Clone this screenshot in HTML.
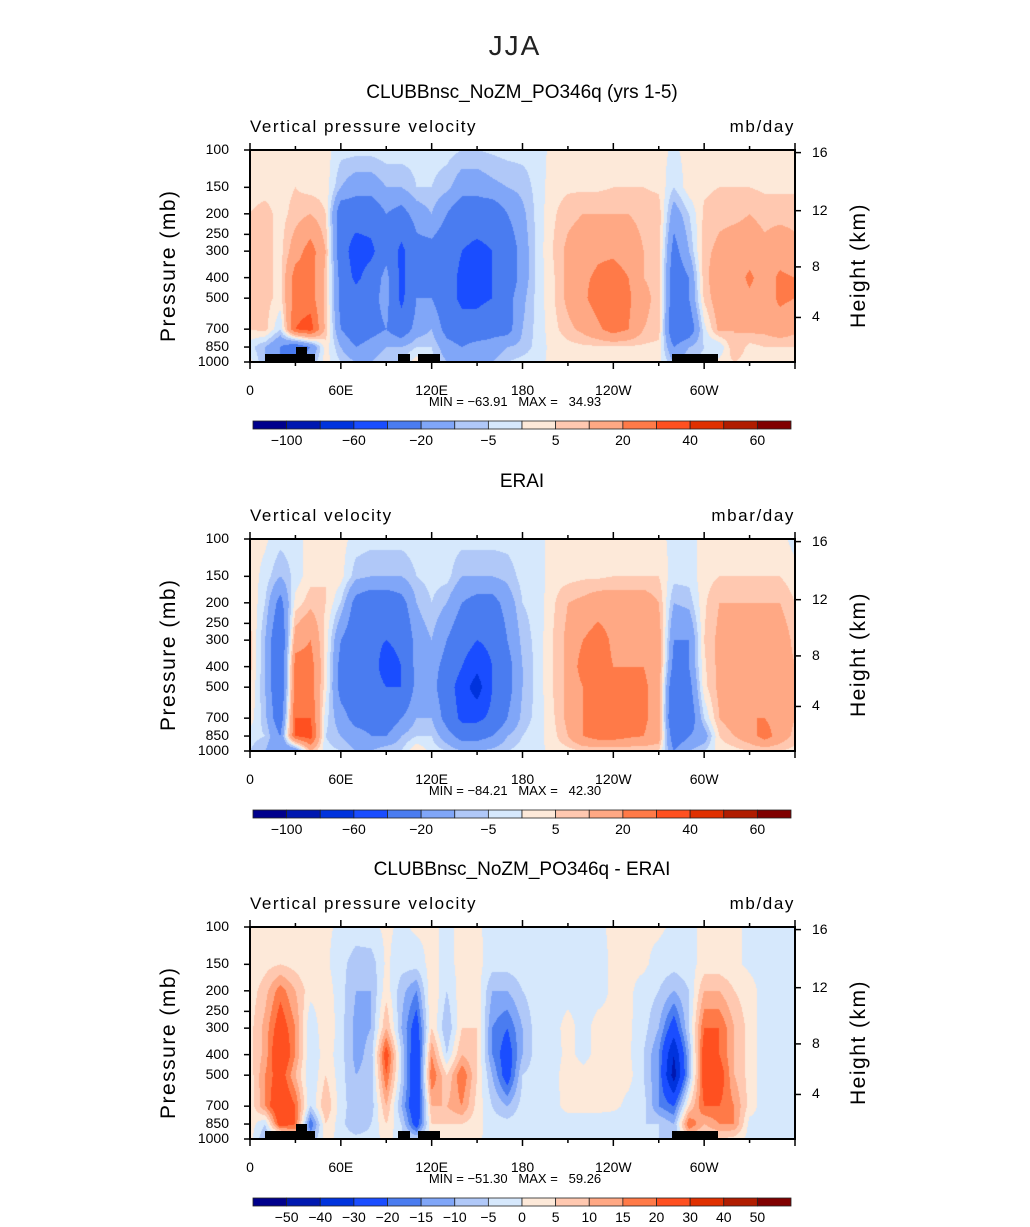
<!DOCTYPE html>
<html><head><meta charset="utf-8">
<style>
body{margin:0;background:#fff;}
#root{position:relative;width:1030px;height:1227px;background:#fff;font-family:"Liberation Sans",sans-serif;color:#000;overflow:hidden;}
.t{position:absolute;white-space:pre;}
canvas{position:absolute;}
svg{position:absolute;left:0;top:0;}
</style></head>
<body>
<div id="root">
<div class="t" style="left:0;width:1030px;text-align:center;top:30px;font-size:28px;color:#222;letter-spacing:2px;">JJA</div>
</div>
<script>
// ---- chart data ----
const lons=[0,10,20,30,40,50,60,70,80,90,100,110,120,130,140,150,160,170,180,190,200,210,220,230,240,250,260,270,280,290,300,310,320,330,340,350,360];
const levels=[100,150,200,300,400,500,700,850,1000];
const pressureTicks=[100,150,200,250,300,400,500,700,850,1000];
const heightTicks=[16,12,8,4];
const lonTickVals=[0,60,120,180,240,300];
const lonTickLabels=["0","60E","120E","180","120W","60W"];
const fullLevels=[-100,-80,-60,-40,-20,-10,-5,0,5,10,20,30,40,50,60];
const fullLabels=["−100","","−60","","−20","","−5","","5","","20","","40","","60"];
const diffLevels=[-50,-40,-30,-20,-15,-10,-5,0,5,10,15,20,30,40,50];
const diffLabels=["−50","−40","−30","−20","−15","−10","−5","0","5","10","15","20","30","40","50"];
const colors16=['#00008c','#0018b0','#0033dd','#1a4dff','#4a7cf0','#80a6f8','#b0c8f8','#d6e8fc','#fde9d9','#ffc8b0','#ffa884','#ff7a48','#ff5020','#e03000','#b01c00','#800000'];
const modelCols=[
[2,3,5,7,7,7,5,-3,2],[2,3,7,7,7,7,7,-10,-10],[2,3,3,3,3,3,-5,-20,-20],[3,5,7,15,25,25,30,-30,-30],[2,3,10,25,25,25,35,-20,-10],[2,3,5,10,8,8,8,3,2],
[-3,-10,-30,-30,-25,-25,-20,-10,-5],[-3,-15,-30,-50,-45,-30,-30,-20,-10],[-3,-15,-30,-45,-30,-25,-25,-15,-10],[-2,-10,-20,-25,-15,-15,-20,-10,-5],[-2,-10,-25,-45,-45,-45,-30,-10,-5],[-3,-5,-15,-25,-25,-20,-15,-5,3],
[-3,-5,-10,-25,-25,-20,-10,-5,-3],[-3,-8,-20,-30,-30,-30,-25,-15,-10],[-5,-15,-30,-40,-45,-45,-30,-20,-10],[-5,-15,-30,-45,-45,-45,-30,-15,-10],[-4,-12,-30,-40,-40,-40,-25,-15,-10],[-3,-10,-20,-30,-30,-25,-25,-10,-5],
[-3,-8,-12,-15,-15,-12,-10,-8,-3],[-3,-3,-3,-3,-3,-3,-3,-3,-2],[2,3,4,5,4,4,3,2,2],[2,4,8,12,12,12,8,3,2],[2,4,10,15,18,18,12,4,3],[2,4,10,18,22,25,18,4,3],
[2,5,10,18,25,28,25,4,3],[2,5,10,15,20,22,20,4,3],[2,5,8,10,10,12,10,4,3],[2,4,8,8,8,8,8,3,2],[-1,-5,-15,-25,-30,-30,-35,-20,-10],[2,3,-5,-10,-20,-20,-30,-10,-5],
[2,4,6,8,8,6,-2,-5,-3],[2,5,8,12,15,15,12,-5,2],[2,5,8,15,15,15,10,10,5],[2,5,10,15,22,18,12,3,2],[2,4,8,12,15,15,12,5,3],[2,4,8,15,22,22,15,5,3],[2,4,8,12,20,20,12,5,3]];
const eraiCols=[
[2,3,5,7,7,5,3,-3,-5],[1,-2,-5,-10,-10,-10,-8,-5,-10],[-3,-10,-25,-35,-35,-35,-30,-20,-20],[-2,-3,2,15,25,25,30,30,-20],[2,3,8,20,25,25,30,35,10],[3,5,5,3,3,2,-3,-5,-3],
[2,2,-5,-20,-25,-25,-15,-10,-5],[-2,-8,-25,-30,-30,-30,-25,-15,-10],[-3,-10,-30,-35,-30,-30,-25,-20,-10],[-3,-10,-30,-40,-50,-40,-30,-20,-5],[-3,-10,-25,-35,-40,-40,-20,-10,-5],[-2,-5,-10,-15,-15,-15,-10,-5,5],
[-2,-3,-5,-10,-15,-15,-10,-5,-2],[-2,-3,-10,-20,-25,-30,-25,-15,-5],[-3,-10,-20,-30,-40,-50,-45,-25,-10],[-3,-10,-25,-40,-55,-70,-45,-25,-10],[-3,-10,-25,-35,-40,-40,-35,-20,-8],[-3,-8,-15,-20,-25,-25,-20,-10,-5],
[-2,-3,-5,-8,-10,-10,-8,-5,-3],[-2,-3,-3,-3,-3,-3,-3,-2,-2],[2,3,4,5,5,5,4,3,2],[2,3,10,12,12,12,12,10,3],[2,4,12,20,25,20,20,20,5],[2,4,15,25,25,22,20,25,5],
[2,5,15,18,20,25,25,25,5],[2,5,15,18,20,25,25,22,5],[2,5,15,18,20,22,22,20,5],[2,5,10,15,15,15,15,15,5],[-2,-3,-10,-20,-25,-35,-40,-30,-20],[-2,-3,-8,-20,-20,-25,-30,-20,-10],
[2,3,4,5,4,3,-5,-15,-5],[2,5,10,12,12,12,10,5,2],[2,5,10,12,15,15,15,10,3],[2,5,10,12,15,15,20,15,5],[2,5,10,15,15,18,20,25,5],[2,5,10,15,15,15,15,15,5],[-2,2,5,8,10,10,10,8,3]];
const diffCols=[
[1,1,2,3,3,2,1,3,2],[2,3,8,12,12,15,15,-5,-10],[2,5,18,25,30,25,30,25,-10],[2,3,10,15,15,10,20,20,5],[1,1,2,-5,-5,-5,-5,-20,-10],[1,1,3,5,3,5,10,5,2],
[-1,-3,-3,-3,-3,-3,-3,-3,-2],[-2,-8,-10,-12,-12,-10,-8,-10,-3],[-1,-8,-10,-10,-8,-8,-8,-5,-3],[1,1,3,10,25,20,10,5,2],[-1,-3,-8,-10,-5,-5,-10,-5,-3],[1,-3,-15,-25,-30,-30,-30,-25,-5],
[1,2,5,5,15,20,10,5,2],[-1,-2,-5,-10,-5,5,10,5,2],[1,2,3,5,10,20,15,5,2],[1,2,3,5,5,5,3,2,1],[-2,-3,-10,-15,-15,-10,-5,-3,-2],[-2,-3,-10,-20,-25,-25,-10,-3,-2],
[-1,-2,-5,-10,-10,-5,-3,-2,-2],[-1,-2,-2,-2,-2,-2,-2,-2,-2],[-1,-2,-2,-2,-3,-2,-2,-3,-2],[-1,-2,-2,2,2,3,2,-3,-2],[-1,-2,-2,-2,-2,2,3,-5,-2],[-1,-2,-2,2,2,3,3,-5,-2],
[1,1,1,1,2,3,2,-5,-2],[1,1,1,1,1,2,-2,-5,-2],[1,1,-2,-3,-5,-5,-3,-5,-2],[1,-2,-5,-10,-15,-15,-15,-5,-5],[-1,-3,-10,-25,-40,-45,-20,-10,-10],[-1,-2,-5,-5,-10,-10,5,20,5],
[1,2,10,20,25,25,20,10,2],[1,2,10,20,20,25,20,15,5],[1,1,5,10,10,10,15,15,3],[-1,-1,2,3,3,3,3,-2,-2],[-1,-2,-2,-3,-3,-3,-3,-2,-2],[-1,-2,-2,-3,-3,-3,-3,-2,-2],[-1,-2,-2,-3,-3,-3,-3,-2,-2]];

const root=document.getElementById('root');
const PX=250,PW=545,PH=212;
function xOfLon(l){return PX+l/360*PW;}
function yRel(p){return PH*(1-Math.log10(1000/p));}
function pOfHeightKm(h){const z=h*1000;if(z<=11000)return 1013.25*Math.pow(1-2.25577e-5*z,5.25588);return 226.32*Math.exp(-(z-11000)/6341.6);}
function hex(c){return [parseInt(c.slice(1,3),16),parseInt(c.slice(3,5),16),parseInt(c.slice(5,7),16)];}
const rgb=colors16.map(hex);
function binOf(v,bounds){let i=0;while(i<bounds.length&&v>bounds[i])i++;return i;}
function addText(txt,left,top,size,align,name,extra){
  const d=document.createElement('div');d.className='t';d.textContent=txt;
  
  
  let s='top:'+top+'px;font-size:'+size+'px;';
  if(align==='center')s+='left:'+(left-200)+'px;width:400px;text-align:center;';
  else if(align==='right')s+='left:'+(left-200)+'px;width:200px;text-align:right;';
  else s+='left:'+left+'px;';
  d.style.cssText=s+(extra||'');root.appendChild(d);return d;
}
const NS='http://www.w3.org/2000/svg';
const svg=document.createElementNS(NS,'svg');svg.setAttribute('width',1030);svg.setAttribute('height',1227);


function el(tag,attrs,name){const e=document.createElementNS(NS,tag);for(const k in attrs)e.setAttribute(k,attrs[k]);
  
  
  svg.appendChild(e);return e;}

function drawPanel(off,cols,bounds,title,sub,unit,mn,mx,labels,topo,pid){
  const top=150+off;
  addText(title,522,top-68,19,'center',pid+'-title');
  addText(sub,250,top-33,17,'left',pid+'-variable-label','letter-spacing:1.5px;');
  addText(unit,795,top-33,17,'right',pid+'-units-label','letter-spacing:1.6px;');
  const cv=document.createElement('canvas');cv.width=PW;cv.height=PH;
  cv.style.left=PX+'px';cv.style.top=top+'px';
  
  
  root.appendChild(cv);
  const ctx=cv.getContext('2d');const img=ctx.createImageData(PW,PH);
  const ly=levels.map(yRel);
  for(let py=0;py<PH;py++){
    const yy=py+0.5;let k=0;while(k<levels.length-2&&yy>ly[k+1])k++;
    let fy=(yy-ly[k])/(ly[k+1]-ly[k]);fy=Math.max(0,Math.min(1,fy));
    for(let px=0;px<PW;px++){
      const lon=(px+0.5)/PW*360;let j=Math.min(lons.length-2,Math.floor(lon/10));
      const fx=(lon-lons[j])/(lons[j+1]-lons[j]);
      const a=cols[j][k]*(1-fy)+cols[j][k+1]*fy;
      const b=cols[j+1][k]*(1-fy)+cols[j+1][k+1]*fy;
      const v=a*(1-fx)+b*fx;
      const c=rgb[binOf(v,bounds)];const o=(py*PW+px)*4;
      img.data[o]=c[0];img.data[o+1]=c[1];img.data[o+2]=c[2];img.data[o+3]=255;
    }
  }
  ctx.putImageData(img,0,0);
  if(topo){
    [[265,354,315,362],[296,347,307,354],[398,354,410,362],[418,354,440,362],[672,354,718,362]].forEach(r=>{
      el('rect',{x:r[0],y:r[1]+off,width:r[2]-r[0],height:r[3]-r[1],fill:'#000'},pid+'-topography');
    });
  }
  el('rect',{x:PX,y:top,width:PW,height:PH,fill:'none',stroke:'#000','stroke-width':2},pid+'-plot-frame');
  pressureTicks.forEach(p=>{const y=top+yRel(p);
    el('line',{x1:PX-6,y1:y,x2:PX,y2:y,stroke:'#000','stroke-width':1.5},pid+'-pressure-tick');
    addText(String(p),229,y-9,14,'right',pid+'-pressure-label');});
  heightTicks.forEach(h=>{const y=top+yRel(pOfHeightKm(h));
    el('line',{x1:PX+PW,y1:y,x2:PX+PW+6,y2:y,stroke:'#000','stroke-width':1.5},pid+'-height-tick');
    addText(String(h),812,y-9,14,'left',pid+'-height-label');});
  for(let l=0;l<=360;l+=30){const x=xOfLon(l);const major=l%60===0;
    el('line',{x1:x,y1:top+PH,x2:x,y2:top+PH+(major?7:4),stroke:'#000','stroke-width':1.5},pid+'-lon-tick');
    el('line',{x1:x,y1:top-(major?7:4),x2:x,y2:top,stroke:'#000','stroke-width':1.5},pid+'-lon-tick-top');}
  lonTickVals.forEach((l,i)=>addText(lonTickLabels[i],xOfLon(l),top+PH+20,14,'center',pid+'-lon-label'));
  addText('Pressure (mb)',0,0,21,'left',pid+'-y-axis-title','transform-origin:0 0;transform:translate(157px,'+(top+192)+'px) rotate(-90deg);letter-spacing:1.5px;');
  addText('Height (km)',0,0,21,'left',pid+'-right-axis-title','transform-origin:0 0;transform:translate(847px,'+(top+178)+'px) rotate(-90deg);letter-spacing:1.5px;');
  addText('MIN = '+mn+'   MAX =   '+mx,515,top+244,13,'center',pid+'-min-max');
  const cy=top+271,bw=(791-253)/16;
  colors16.forEach((c,i)=>{el('rect',{x:253+i*bw,y:cy,width:bw,height:8,fill:c,stroke:'#222','stroke-width':0.8},pid+'-colorbar-box');});
  labels.forEach((t,i)=>{if(t)addText(t,253+(i+1)*bw,cy+11,14,'center',pid+'-colorbar-label');});
}
drawPanel(0,modelCols,fullLevels,'CLUBBnsc_NoZM_PO346q (yrs 1-5)','Vertical pressure velocity','mb/day','−63.91','34.93',fullLabels,true,'model-panel');
drawPanel(389,eraiCols,fullLevels,'ERAI','Vertical velocity','mbar/day','−84.21','42.30',fullLabels,false,'erai-panel');
drawPanel(777,diffCols,diffLevels,'CLUBBnsc_NoZM_PO346q - ERAI','Vertical pressure velocity','mb/day','−51.30','59.26',diffLabels,true,'diff-panel');
root.appendChild(svg);
</script>
</body></html>
